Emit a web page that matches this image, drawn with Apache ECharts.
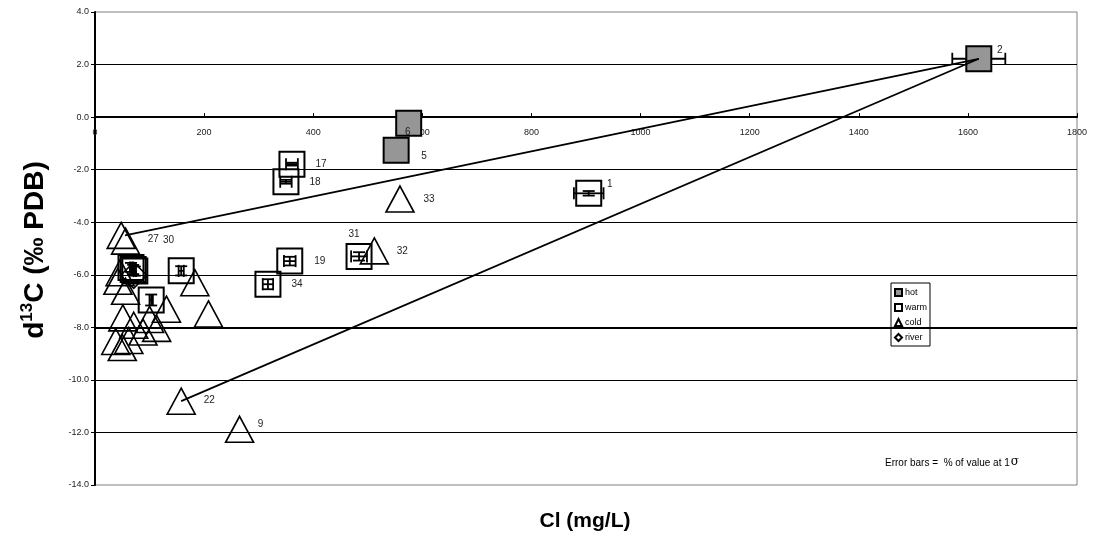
<!DOCTYPE html>
<html><head><meta charset="utf-8">
<script src="https://cdn.jsdelivr.net/npm/echarts@6/dist/echarts.min.js"></script>
<style>html,body{margin:0;padding:0;background:#fff}#c{width:1097px;height:544px}</style>
</head><body><div id="c"></div>
<script>
// ---- data (Cl mg/L, d13C per mil, label) ----
const hot = [[1620, 2.22, '2'], [575, -0.23, '6'], [552, -1.26, '5']];
const warm = [[361, -1.79, '17'], [350, -2.46, '18'], [905, -2.90, '1'], [357, -5.48, '19'],
  [317, -6.36, '34'], [484, -5.30, '31'], [66, -5.72, ''], [70, -5.80, ''], [73, -5.86, ''],
  [158, -5.85, ''], [103, -6.96, '']];
const cold = [[48, -4.50, '27'], [56, -4.72, '30'], [559, -3.12, '33'], [512, -5.09, '32'],
  [158, -10.81, '22'], [265, -11.88, '9'],
  [46, -5.92, ''], [42, -6.25, ''], [56, -6.63, ''], [183, -6.30, ''], [131, -7.31, ''],
  [208, -7.49, ''], [51, -7.64, ''], [71, -7.92, ''], [88, -8.18, ''], [113, -8.04, ''],
  [38, -8.54, ''], [50, -8.77, ''], [62, -8.50, ''], [100, -7.70, '']];
const river = [[71, -6.02, '']];
const mixLineA = [[1620, 2.22], [55, -4.50]];
const mixLineB = [[1620, 2.22], [158, -10.81]];
const errPct = 0.03;
const xTicks = { min: 0, max: 1800, step: 200 };
const yTicks = { min: -14, max: 4, step: 2 };
const legendNames = ['hot', 'warm', 'cold', 'river'];

// ---- label placement (styling, not data) ----
const labelOffset = {
  '2': [21, -9], '6': [-1, 9], '5': [28, 6], '17': [29, 0], '18': [29, 0], '19': [30, 0],
  '34': [29, 0], '31': [-5, -22], '32': [28, 0], '33': [29, 0], '1': [21, -9],
  '22': [28, -1], '9': [21, -5], '27': [32, 4], '30': [43, -1]
};
const FONT = '"Liberation Sans", Arial, sans-serif';
const GRID = { left: 95, right: 20, top: 12, bottom: 59 };
const plotH = 544 - GRID.top - GRID.bottom;
// pixel distance from bottom edge of plot up to the y=0 line
const zeroOffset = plotH * (0 - yTicks.min) / (yTicks.max - yTicks.min);

function pts(arr) {
  return arr.map(d => ({
    value: [d[0], d[1]],
    label: d[2] ? { show: true, formatter: d[2], position: 'inside', offset: labelOffset[d[2]] || [25, 0] } : { show: false }
  }));
}
const labelStyle = { color: '#222', fontSize: 10, fontFamily: FONT };

const errData = hot.concat(warm).map(d => [d[0], d[1]]);

const chart = echarts.init(document.getElementById('c'));
chart.setOption({
  animation: false,
  backgroundColor: '#fff',
  grid: Object.assign({ show: true, borderColor: '#808080', borderWidth: 1, backgroundColor: 'transparent' }, GRID),
  xAxis: {
    type: 'value', min: xTicks.min, max: xTicks.max, interval: xTicks.step,
    position: 'bottom', offset: -zeroOffset,
    axisLine: { onZero: false, lineStyle: { color: '#000', width: 2 } },
    axisTick: { inside: true, length: 4, lineStyle: { color: '#000' } },
    axisLabel: { fontSize: 9, color: '#222', fontFamily: FONT, margin: 11, formatter: v => String(v) },
    splitLine: { show: false }
  },
  yAxis: {
    type: 'value', min: yTicks.min, max: yTicks.max, interval: yTicks.step,
    axisLine: { show: true, onZero: false, lineStyle: { color: '#000', width: 2 } },
    axisTick: { show: true, inside: false, length: 4, lineStyle: { color: '#000' } },
    axisLabel: { fontSize: 9, color: '#222', fontFamily: FONT, margin: 6, formatter: v => v.toFixed(1) },
    splitLine: { show: true, showMinLine: false, showMaxLine: false, lineStyle: { color: '#000', width: 1 } }
  },
  legend: {
    data: legendNames, orient: 'vertical', left: 891, top: 283,
    backgroundColor: '#fff', borderColor: '#000', borderWidth: 1,
    padding: [5, 3, 4, 3], itemWidth: 7, itemHeight: 7, itemGap: 6,
    textStyle: { fontSize: 9, color: '#000', fontFamily: FONT, padding: [0, 0, 0, -2] }
  },
  series: [
    {
      name: 'errbars', type: 'custom', z: 1, silent: true,
      data: errData,
      renderItem: function (params, api) {
        const x = api.value(0), y = api.value(1);
        const ex = Math.abs(x) * errPct, ey = Math.abs(y) * errPct;
        const c = api.coord([x, y]);
        const l = api.coord([x - ex, y]), r = api.coord([x + ex, y]);
        const t = api.coord([x, y + ey]), b = api.coord([x, y - ey]);
        const cap = 6;
        const st = { stroke: '#000', lineWidth: 1.8 };
        const ln = (x1, y1, x2, y2) => ({ type: 'line', shape: { x1, y1, x2, y2 }, style: st });
        return {
          type: 'group', children: [
            ln(l[0], c[1], r[0], c[1]),
            ln(l[0], c[1] - cap, l[0], c[1] + cap),
            ln(r[0], c[1] - cap, r[0], c[1] + cap),
            ln(c[0], t[1], c[0], b[1]),
            ln(c[0] - cap, t[1], c[0] + cap, t[1]),
            ln(c[0] - cap, b[1], c[0] + cap, b[1])
          ]
        };
      }
    },
    {
      name: 'hot', type: 'scatter', z: 3, symbol: 'rect', symbolSize: 25,
      itemStyle: { color: '#969696', borderColor: '#000', borderWidth: 2, opacity: 1 },
      label: labelStyle, data: pts(hot)
    },
    {
      name: 'warm', type: 'scatter', z: 2, symbol: 'rect', symbolSize: 25,
      itemStyle: { color: 'rgba(255,255,255,0)', borderColor: '#000', borderWidth: 2, opacity: 1 },
      label: labelStyle, data: pts(warm)
    },
    {
      name: 'cold', type: 'scatter', z: 2, symbol: 'triangle', symbolSize: [28, 26],
      itemStyle: { color: 'rgba(255,255,255,0)', borderColor: '#000', borderWidth: 1.6, opacity: 1 },
      label: labelStyle, data: pts(cold)
    },
    {
      name: 'river', type: 'scatter', z: 2, symbol: 'diamond', symbolSize: 26,
      itemStyle: { color: 'rgba(255,255,255,0)', borderColor: '#000', borderWidth: 1.6, opacity: 1 },
      label: labelStyle, data: pts(river)
    },
    {
      name: 'mixA', type: 'line', z: 4, symbol: 'none', silent: true, data: mixLineA,
      lineStyle: { color: '#000', width: 1.8 },
      markLine: {
        silent: true, symbol: 'none', label: { show: false },
        lineStyle: { color: '#000', width: 2, type: 'solid' },
        data: [{ yAxis: -8 }]
      }
    },
    {
      name: 'mixB', type: 'line', z: 4, symbol: 'none', silent: true, data: mixLineB,
      lineStyle: { color: '#000', width: 1.8 }
    }
  ],
  graphic: [
    {
      type: 'text', x: 35, y: 250, rotation: Math.PI / 2,
      style: {
        text: '{b|d}{s|13}{b|C (‰ PDB)}', align: 'center', verticalAlign: 'middle',
        rich: {
          b: { fontSize: 28, fontWeight: 'bold', fontFamily: FONT, fill: '#000', lineHeight: 32 },
          s: { fontSize: 17, fontWeight: 'bold', fontFamily: FONT, fill: '#000', verticalAlign: 'top', lineHeight: 32, padding: [0, 0, 12, 0] }
        }
      }
    },
    {
      type: 'text', x: 585, y: 521,
      style: { text: 'Cl (mg/L)', align: 'center', verticalAlign: 'middle', fontSize: 21, fontWeight: 'bold', fontFamily: FONT, fill: '#000' }
    },
    {
      type: 'text', x: 885, y: 463,
      style: {
        text: '{a|Error bars =  % of value at 1}{g|σ}', align: 'left', verticalAlign: 'middle',
        rich: {
          a: { fontSize: 10, fontFamily: FONT, fill: '#000' },
          g: { fontSize: 12, fontFamily: '"DejaVu Serif", serif', fill: '#000', padding: [0, 0, 3, 1] }
        }
      }
    }
  ]
});
</script></body></html>
